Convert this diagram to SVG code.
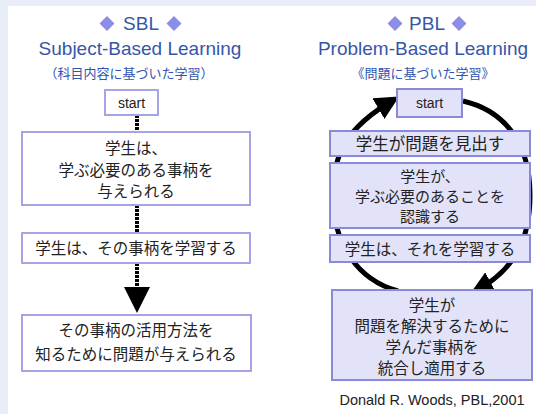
<svg xmlns="http://www.w3.org/2000/svg" width="536" height="414" viewBox="0 0 536 414">
<style>
.title{font-family:"Liberation Sans",Arial,sans-serif;font-size:19px;fill:#3656a8;text-anchor:middle}
.sub{font-family:"Noto Sans CJK JP",sans-serif;font-size:13px;fill:#2f55b0;text-anchor:middle}
.dia{fill:#8c8ee6}
.t{font-family:"Noto Sans CJK JP",sans-serif;font-size:15.5px;fill:#222;text-anchor:middle}
.en{font-family:"Liberation Sans",Arial,sans-serif;font-size:14px;fill:#222;text-anchor:middle}
.wbox{fill:#ffffff;stroke:#a4a4e6;stroke-width:2}
.lbox{fill:#e2e2f9;stroke:#8a8ad8;stroke-width:2}
.dash{stroke:#000;stroke-width:4;stroke-dasharray:3 1;fill:none}
.loop{stroke:#000;stroke-width:5;fill:none;marker-end:url(#ah)}
</style>
<defs>
<marker id="ah" viewBox="0 0 10 10" refX="8" refY="5" markerWidth="24" markerHeight="24" markerUnits="userSpaceOnUse" orient="auto">
<path d="M0,0 L10,5 L0,10 Z" fill="#000"/>
</marker>
</defs>
<rect x="0" y="0" width="536" height="414" fill="#e8edf7"/>
<rect x="8" y="6" width="528" height="408" fill="#ffffff"/>

<g id="sbl-header">
<path class="dia" d="M107,16 L114.5,23.5 L107,31 L99.5,23.5 Z"/>
<text class="title" x="141" y="30">SBL</text>
<path class="dia" d="M174,16 L181.5,23.5 L174,31 L166.5,23.5 Z"/>
<text class="title" x="140" y="55">Subject-Based Learning</text>
<text class="sub" x="129" y="78">（科目内容に基づいた学習）</text>
</g>

<g id="pbl-header">
<path class="dia" d="M395,16 L402.5,23.5 L395,31 L387.5,23.5 Z"/>
<text class="title" x="427" y="30">PBL</text>
<path class="dia" d="M459,16 L466.5,23.5 L459,31 L451.5,23.5 Z"/>
<text class="title" x="423" y="55">Problem-Based Learning</text>
<text class="sub" x="423" y="78">《問題に基づいた学習》</text>
</g>

<g id="connectors">
<line class="dash" x1="137" y1="115" x2="137" y2="132"/>
<line class="dash" x1="137" y1="205" x2="137" y2="233"/>
<line class="dash" x1="137" y1="263" x2="137" y2="288"/>
<path d="M124,287 L150,287 L137,313 Z" fill="#000"/>
<path class="loop" d="M463,101 C502,110 530,140 530,195 C530,240 515,270 474,292"/>
<path class="loop" d="M398,291 C358,280 333,245 333,195 C333,155 345,128 395,99"/>
</g>

<g id="sbl-start">
<rect class="wbox" x="105" y="90" width="53" height="25"/>
<text class="en" x="131.5" y="107.5">start</text>
</g>
<g id="sbl-given">
<rect class="wbox" x="22" y="132" width="228" height="73"/>
<text class="t" x="136" y="154">学生は、</text>
<text class="t" x="136" y="176">学ぶ必要のある事柄を</text>
<text class="t" x="136" y="197">与えられる</text>
</g>
<g id="sbl-learn">
<rect class="wbox" x="22" y="233" width="228" height="30"/>
<text class="t" x="136" y="254">学生は、その事柄を学習する</text>
</g>
<g id="sbl-problem">
<rect class="wbox" x="22" y="315" width="229" height="56"/>
<text class="t" x="136" y="336">その事柄の活用方法を</text>
<text class="t" x="136" y="360">知るために問題が与えられる</text>
</g>

<g id="pbl-start">
<rect class="lbox" x="397" y="89" width="65" height="28"/>
<text class="en" x="429.5" y="108">start</text>
</g>
<g id="pbl-find">
<rect class="lbox" x="330" y="131" width="200" height="25"/>
<text class="t" x="430" y="149.5" style="font-size:16.5px">学生が問題を見出す</text>
</g>
<g id="pbl-recognize">
<rect class="lbox" x="330" y="163" width="200" height="65"/>
<text class="t" x="430" y="182" style="font-size:15px">学生が、</text>
<text class="t" x="430" y="202" style="font-size:15px">学ぶ必要のあることを</text>
<text class="t" x="430" y="222" style="font-size:15px">認識する</text>
</g>
<g id="pbl-learn">
<rect class="lbox" x="330" y="235" width="200" height="27"/>
<text class="t" x="430" y="255">学生は、それを学習する</text>
</g>
<g id="pbl-apply">
<rect class="lbox" x="332" y="290" width="200" height="90"/>
<text class="t" x="432" y="311">学生が</text>
<text class="t" x="432" y="332">問題を解決するために</text>
<text class="t" x="432" y="353">学んだ事柄を</text>
<text class="t" x="432" y="374">統合し適用する</text>
</g>

<text x="432" y="405" style="font-family:'Liberation Sans',Arial,sans-serif;font-size:14.5px;fill:#222;text-anchor:middle">Donald R. Woods, PBL,2001</text>
</svg>
